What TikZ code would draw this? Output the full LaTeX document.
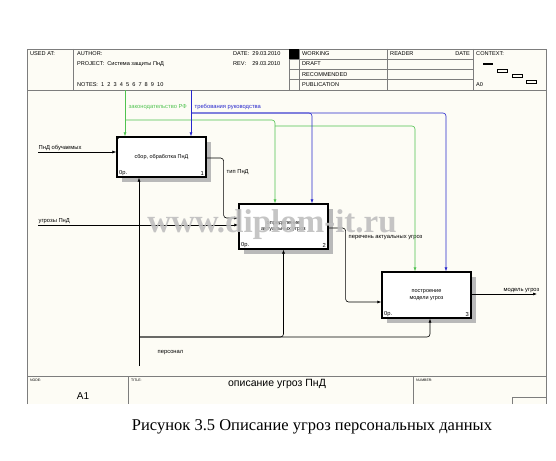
\documentclass[tikz,border=0pt]{standalone}
\usepackage{fontspec}
\setmainfont{Liberation Sans}
\newfontfamily\capfont{Liberation Serif}
\usetikzlibrary{arrows.meta,positioning,calc,shadows}
\definecolor{ctrlgreen}{RGB}{80,195,80}
\definecolor{ctrlblue}{RGB}{40,40,205}
\definecolor{framegray}{RGB}{125,125,125}
\definecolor{paper}{RGB}{253,252,245}

\begin{document}
\begin{tikzpicture}[x=1pt, y=-1pt,
	func/.style = {draw, very thick, fill=white, minimum width=89pt, align=center,
		font=\fontsize{5.5}{6.5}\selectfont, inner sep=1pt,
		drop shadow={shadow xshift=5pt, shadow yshift=-5pt, fill=gray!55, opacity=1}},
	arr/.style = {-{Latex[length=4pt,width=3pt]}, line width=0.6pt, rounded corners=3pt},
	lab/.style = {font=\fontsize{5.8}{6.5}\selectfont, inner sep=0.5pt},
	hdr/.style = {font=\fontsize{5.6}{6.5}\selectfont, anchor=base west, inner sep=0pt},
	frm/.style = {draw=framegray, line width=0.8pt}]
	% page and form
	\fill[white] (0,0) rectangle (556,460);
	\fill[paper] (27,49) rectangle (546,404);
	\draw[frm] (27,404) -- (27,49) -- (546,49) -- (546,404);
	\draw[frm] (27,90) -- (546,90);
	\draw[frm] (73,49) -- (73,90);
	\foreach \x in {289,299,387,473} \draw[frm] (\x,49) -- (\x,90);
	\foreach \y in {59,69,79} \draw[frm] (289,\y) -- (473,\y);
	\fill (289,49) rectangle (299,59);
	\draw[frm] (27,376) -- (546,376);
	\draw[frm] (128,376) -- (128,404);
	\draw[frm] (413,376) -- (413,404);
	\draw[frm] (512,404) -- (512,397) -- (546,397);
	% header texts
	\node[hdr] (usedat) at (30,55.5) {USED AT:};
	\node[hdr] (author) at (77,55.5) {AUTHOR:};
	\node[hdr] (project) at (77,65.5) {PROJECT:\ \ Система защиты ПнД};
	\node[hdr] (notes) at (77,86) {NOTES:\ \ 1\ \ 2\ \ 3\ \ 4\ \ 5\ \ 6\ \ 7\ \ 8\ \ 9\ \ 10};
	\node[hdr] (date) at (233,55.5) {DATE:\ \ 29.03.2010};
	\node[hdr] (rev) at (233,65.5) {REV:\ \ \ \ 29.03.2010};
	\node[hdr] (working) at (302,56) {WORKING};
	\node[hdr] (draft) at (302,66) {DRAFT};
	\node[hdr] (recom) at (302,76) {RECOMMENDED};
	\node[hdr] (publ) at (302,86) {PUBLICATION};
	\node[hdr] (reader) at (390,56) {READER};
	\node[hdr, anchor=base east] (rdate) at (470,56) {DATE};
	\node[hdr] (context) at (476,56) {CONTEXT:};
	\node[hdr] (azero) at (476,86) {A0};
	\fill (483,63) rectangle (493,65);
	\draw[line width=0.4pt] (497,69) rectangle (507,72);
	\draw[line width=0.4pt] (512,74) rectangle (522,77);
	\draw[line width=0.4pt] (526,80) rectangle (536,83);
	% footer texts
	\node[hdr, font=\fontsize{3.5}{4}\selectfont] (nodelab) at (30,381) {NODE:};
	\node[hdr, font=\fontsize{3.5}{4}\selectfont] (titlelab) at (131,381) {TITLE:};
	\node[hdr, font=\fontsize{3.5}{4}\selectfont] (numlab) at (416,381) {NUMBER:};
	\node[font=\fontsize{10}{11}\selectfont] (aone) at (83,396) {A1};
	\node[font=\fontsize{10.5}{11}\selectfont] (title) at (277,384) {описание угроз ПнД};
	% functions
	\node[func, minimum height=40pt] (b1) at (161.5,157) {сбор, обработка ПнД};
	\node[func, minimum height=45pt] (b2) at (283.5,226.5) {определение\\актуальных угроз};
	\node[func, minimum height=46pt] (b3) at (426.5,295) {построение\\модели угроз};
	\foreach \b/\n in {b1/1,b2/2,b3/3} {
		\node[lab, anchor=south west] at ($(\b.south west)+(2,-1)$) {0р.};
		\node[lab, anchor=south east] at ($(\b.south east)+(-2,-1)$) {\n};
	}
	\draw (b1.north west) ++(0,4) -- ++(4,-4);
	% inputs and outputs
	\coordinate (in1) at (38,152);
	\coordinate (in2) at (38,225);
	\coordinate (out3) at (537,294);
	\draw[arr] (in1) -- (in1 -| b1.west);
	\node[lab, anchor=south west] at ($(in1)+(0,-1)$) {ПнД обучаемых};
	\draw[arr] (in2) -- (in2 -| b2.west);
	\node[lab, anchor=south west] at ($(in2)+(0,-1)$) {угрозы ПнД};
	\draw[arr] ($(b1.east)+(0,1)$) -- ++(17,0) |- ($(b2.west)+(0,-8.5)$);
	\node[lab, anchor=west] at (226,172) {тип ПнД};
	\draw[arr] ($(b2.east)+(0,1.5)$) -- ++(17,0) |- ($(b3.west)+(0,7)$);
	\node[lab, anchor=west] at (348,238) {перечень актуальных угроз};
	\draw[arr] ($(b3.east)+(0,-1)$) -- (out3);
	\node[lab, anchor=south east] at ($(out3)+(3,-1)$) {модель угроз};
	% mechanism
	\coordinate (mech) at (139,366);
	\coordinate (mj) at (139,337);
	\draw[arr] (mech) -- (mech |- b1.south);
	\draw[arr] (mj) -| (b2.south);
	\draw[arr] (mj) -| ($(b3.south)+(3.5,0)$);
	\node[lab, anchor=west] at (157,353) {персонал};
	% controls
	\coordinate (c1) at (125,90);
	\coordinate (gj) at (125,120);
	\coordinate (gk) at (275,126);
	\draw[arr, ctrlgreen] (c1) -- (c1 |- b1.north);
	\draw[arr, ctrlgreen] (gj) -| ($(b2.north)+(-8.5,0)$);
	\draw[arr, ctrlgreen] (gk) -| ($(b3.north)+(-11.5,0)$);
	\node[lab, anchor=west, text=ctrlgreen] at (128,107) {законодательство РФ};
	\coordinate (c2) at (191,90);
	\coordinate (bj) at (191,113);
	\draw[arr, ctrlblue] (c2) -- (c2 |- b1.north);
	\draw[arr, ctrlblue] (bj) -| ($(b2.north)+(28.5,0)$);
	\draw[arr, ctrlblue] (bj) -| ($(b3.north)+(19.5,0)$);
	\node[lab, anchor=west, text=ctrlblue] at (194,107) {требования руководства};
	% watermark
	\node[font=\capfont\bfseries\fontsize{33}{33}\selectfont, text=gray!50,
		opacity=0.9] (wmark) at (272,225) {www.diplom-it.ru};
	% caption
	\node[font=\capfont\fontsize{16.5}{18}\selectfont] (caption) at (312,427)
		{Рисунок 3.5 Описание угроз персональных данных};
\end{tikzpicture}
\end{document}
